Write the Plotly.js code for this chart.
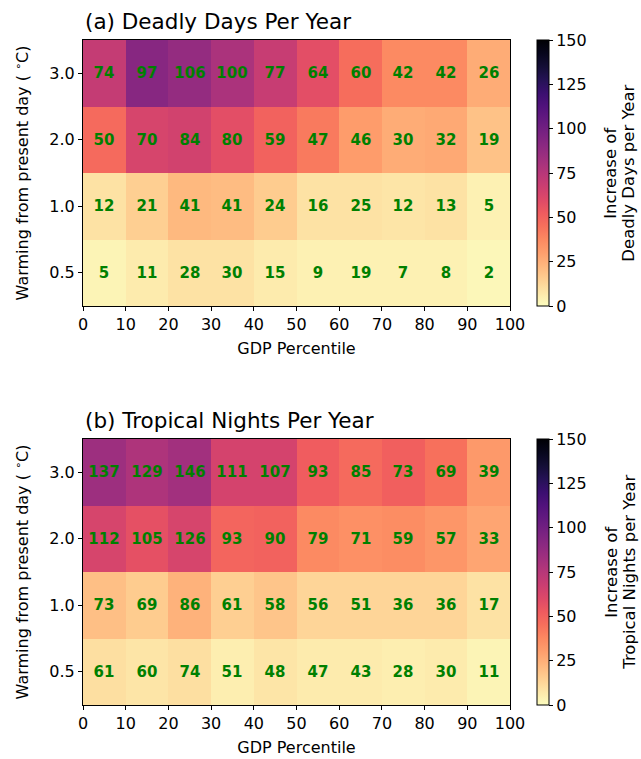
<!DOCTYPE html>
<html>
<head>
<meta charset="utf-8">
<script src="https://cdn.plot.ly/plotly-3.0.1.min.js"></script>
<style>html,body{margin:0;padding:0;background:#fff;}#chart{width:641px;height:759px;}</style>
</head>
<body>
<div id="chart"></div>
<script>
// GDP percentile bin centres and tick positions
const gdpCenters = [5, 15, 25, 35, 45, 55, 65, 75, 85, 95];
const gdpTicks = [0, 10, 20, 30, 40, 50, 60, 70, 80, 90, 100];
const warmingLevels = ["0.5", "1.0", "2.0", "3.0"];

// (a) Deadly days — printed labels (rows: 0.5, 1.0, 2.0, 3.0 °C)
const deadlyLabel05 = [5, 11, 28, 30, 15, 9, 19, 7, 8, 2];
const deadlyLabel10 = [12, 21, 41, 41, 24, 16, 25, 12, 13, 5];
const deadlyLabel20 = [50, 70, 84, 80, 59, 47, 46, 30, 32, 19];
const deadlyLabel30 = [74, 97, 106, 100, 77, 64, 60, 42, 42, 26];
// (a) Deadly days — cell shading
const deadlyShade05 = [3, 6, 9, 9, 6, 4, 4, 4, 4, 2];
const deadlyShade10 = [9, 15, 22, 21, 16, 9, 9, 8, 9, 4];
const deadlyShade20 = [47, 63, 65, 58, 50, 42, 31, 26, 27, 19];
const deadlyShade30 = [70, 92, 87, 79, 69, 58, 46, 37, 37, 26];

// (b) Tropical nights — printed labels
const nightsLabel05 = [61, 60, 74, 51, 48, 47, 43, 28, 30, 11];
const nightsLabel10 = [73, 69, 86, 61, 58, 56, 51, 36, 36, 17];
const nightsLabel20 = [112, 105, 126, 93, 90, 79, 71, 59, 57, 33];
const nightsLabel30 = [137, 129, 146, 111, 107, 93, 85, 73, 69, 39];
// (b) Tropical nights — cell shading
const nightsShade05 = [10, 8, 10, 5, 8, 6, 6, 5, 6, 3];
const nightsShade10 = [20, 16, 24, 15, 18, 13, 13, 13, 13, 9];
const nightsShade20 = [63, 57, 63, 49, 50, 37, 35, 36, 33, 28];
const nightsShade30 = [84, 78, 82, 64, 64, 52, 47, 51, 45, 32];

const colorTicks = [0, 25, 50, 75, 100, 125, 150];

// magma (reversed) colour scale
const magmaR = [
  [0.00, '#fcfdbf'], [0.05, '#fde7a9'], [0.10, '#fecf92'], [0.15, '#feb77e'],
  [0.20, '#fe9f6d'], [0.25, '#fc8961'], [0.30, '#f7705c'], [0.35, '#ef5b5f'],
  [0.40, '#de4968'], [0.45, '#cb3e71'], [0.50, '#b73779'], [0.55, '#a1307e'],
  [0.60, '#8c2981'], [0.65, '#782281'], [0.70, '#641a80'], [0.75, '#51127c'],
  [0.80, '#3b0f70'], [0.85, '#251255'], [0.90, '#140e36'], [0.95, '#07061c'],
  [1.00, '#000004']
];

const font = 'DejaVu Sans, sans-serif';
const TICK = 16, LAB = 16, CBLAB = 16.5, TITLE = 21.5, NUM = 15;

function cbar(yPos, anchor) {
  return {
    x: 1.063, xanchor: 'left', xpad: 0, y: yPos, yanchor: anchor, ypad: 0,
    len: 0.4, lenmode: 'fraction', thickness: 12,
    outlinewidth: 1, outlinecolor: '#000',
    ticks: 'outside', ticklen: 4, tickwidth: 1, tickcolor: '#000',
    tickvals: colorTicks, tickfont: {family: font, size: TICK, color: '#000'}
  };
}

const traceA = {
  type: 'heatmap', x: gdpCenters, y: warmingLevels,
  z: [deadlyShade05, deadlyShade10, deadlyShade20, deadlyShade30],
  text: [deadlyLabel05, deadlyLabel10, deadlyLabel20, deadlyLabel30],
  texttemplate: '<b>%{text}</b>',
  textfont: {family: font, size: NUM, color: 'green'},
  zmin: 0, zmax: 150, colorscale: magmaR,
  xaxis: 'x', yaxis: 'y', hoverinfo: 'skip',
  colorbar: cbar(1, 'top')
};
const traceB = {
  type: 'heatmap', x: gdpCenters, y: warmingLevels,
  z: [nightsShade05, nightsShade10, nightsShade20, nightsShade30],
  text: [nightsLabel05, nightsLabel10, nightsLabel20, nightsLabel30],
  texttemplate: '<b>%{text}</b>',
  textfont: {family: font, size: NUM, color: 'green'},
  zmin: 0, zmax: 150, colorscale: magmaR,
  xaxis: 'x2', yaxis: 'y2', hoverinfo: 'skip',
  colorbar: cbar(0, 'bottom')
};

function xax(anchor) {
  return {
    anchor: anchor, domain: [0, 1], range: [0, 100],
    tickvals: gdpTicks, ticks: 'outside', ticklen: 4, tickcolor: '#000',
    showline: true, linecolor: '#000', linewidth: 1, mirror: true,
    showgrid: false, zeroline: false,
    tickfont: {family: font, size: TICK, color: '#000'},
    title: {text: 'GDP Percentile', standoff: 9, font: {family: font, size: LAB, color: '#000'}}
  };
}
function yax(anchor, dom) {
  return {
    anchor: anchor, domain: dom, type: 'category',
    ticks: 'outside', ticklen: 4, tickcolor: '#000',
    showline: true, linecolor: '#000', linewidth: 1, mirror: true,
    showgrid: false, zeroline: false,
    tickfont: {family: font, size: TICK, color: '#000'},
    title: {text: 'Warming from present day ( <sup>∘</sup>C)', standoff: 16, font: {family: font, size: LAB, color: '#000'}}
  };
}

function cbLine(text, xc, yc) {
  return {text: text, xref: 'paper', yref: 'paper', x: xc, y: yc,
    xanchor: 'center', yanchor: 'middle', textangle: -90, showarrow: false,
    font: {family: font, size: CBLAB, color: '#000'}};
}

const layout = {
  width: 641, height: 759,
  margin: {l: 83, r: 131, t: 40, b: 54},
  paper_bgcolor: '#fff', plot_bgcolor: '#fff',
  font: {family: font, color: '#000'},
  xaxis: xax('y'), yaxis: yax('x', [0.6, 1]),
  xaxis2: xax('y2'), yaxis2: yax('x2', [0, 0.4]),
  annotations: [
    {text: '(a) Deadly Days Per Year', xref: 'paper', yref: 'paper', x: 0, y: 1, yshift: 4,
     xanchor: 'left', yanchor: 'bottom', showarrow: false, font: {family: font, size: TITLE, color: '#000'}},
    {text: '(b) Tropical Nights Per Year', xref: 'paper', yref: 'paper', x: 0, y: 0.4, yshift: 4,
     xanchor: 'left', yanchor: 'bottom', showarrow: false, font: {family: font, size: TITLE, color: '#000'}},
    cbLine('Increase of', 1.236, 0.8),
    cbLine('Deadly Days per Year', 1.278, 0.8),
    cbLine('Increase of', 1.236, 0.2),
    cbLine('Tropical Nights per Year', 1.278, 0.2)
  ]
};

Plotly.newPlot('chart', [traceA, traceB], layout, {displayModeBar: false, staticPlot: true});
</script>
</body>
</html>
